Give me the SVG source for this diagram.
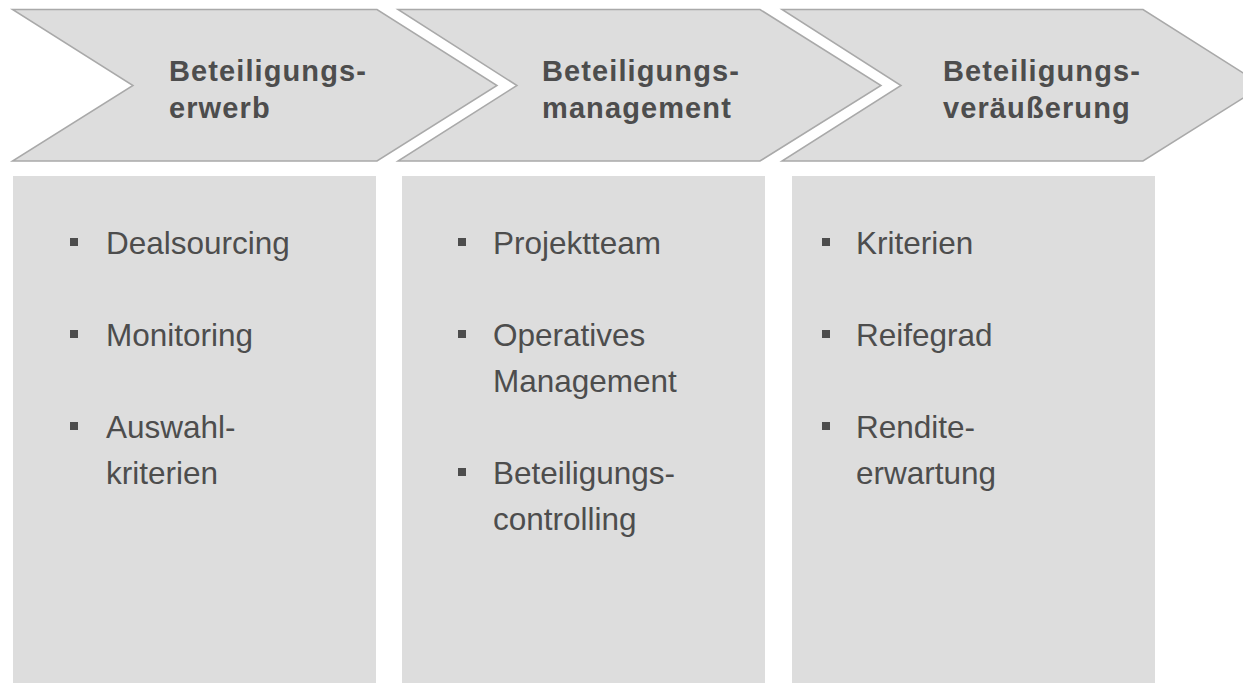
<svg xmlns="http://www.w3.org/2000/svg" width="1243" height="683" viewBox="0 0 1243 683">
  <style>
    .chev { fill: #dddddd; stroke: #a9a9a9; stroke-width: 1.5; stroke-linejoin: miter; }
    .box { fill: #dddddd; stroke: none; }
    .head { font-family: "Liberation Sans", Arial, sans-serif; font-weight: bold; font-size: 29px; letter-spacing: 1.1px; fill: #4d4d4d; }
    .item { font-family: "Liberation Sans", Arial, sans-serif; font-size: 31.5px; fill: #4d4d4d; }
    .bul { fill: #4d4d4d; }
  </style>
  <rect width="1243" height="683" fill="#ffffff"/>

  <g id="stage1">
    <polygon class="chev" points="12.5,9.5 377,9.5 497,85.5 377,161 12.5,161 133,85.5"/>
    <text class="head" x="169" y="81">Beteiligungs-</text>
    <text class="head" x="169" y="118">erwerb</text>
  </g>
  <g id="stage2">
    <polygon class="chev" points="398,9.5 760,9.5 881,85.5 760,161 398,161 517,85.5"/>
    <text class="head" x="542" y="81">Beteiligungs-</text>
    <text class="head" x="542" y="118">management</text>
  </g>
  <g id="stage3">
    <polygon class="chev" points="782,9.5 1143,9.5 1263,85.5 1143,161 782,161 901,85.5"/>
    <text class="head" x="943" y="81">Beteiligungs-</text>
    <text class="head" x="943" y="118">veräußerung</text>
  </g>

  <g id="box1">
    <rect class="box" x="13" y="176" width="363" height="507"/>
    <rect class="bul" x="70" y="238" width="8" height="8"/>
    <text class="item" x="106" y="254">Dealsourcing</text>
    <rect class="bul" x="70" y="330" width="8" height="8"/>
    <text class="item" x="106" y="346">Monitoring</text>
    <rect class="bul" x="70" y="422" width="8" height="8"/>
    <text class="item" x="106" y="438">Auswahl-</text>
    <text class="item" x="106" y="484">kriterien</text>
  </g>
  <g id="box2">
    <rect class="box" x="402" y="176" width="363" height="507"/>
    <rect class="bul" x="458" y="238" width="8" height="8"/>
    <text class="item" x="493" y="254">Projektteam</text>
    <rect class="bul" x="458" y="330" width="8" height="8"/>
    <text class="item" x="493" y="346">Operatives</text>
    <text class="item" x="493" y="392">Management</text>
    <rect class="bul" x="458" y="468" width="8" height="8"/>
    <text class="item" x="493" y="484">Beteiligungs-</text>
    <text class="item" x="493" y="530">controlling</text>
  </g>
  <g id="box3">
    <rect class="box" x="792" y="176" width="363" height="507"/>
    <rect class="bul" x="822" y="238" width="8" height="8"/>
    <text class="item" x="856" y="254">Kriterien</text>
    <rect class="bul" x="822" y="330" width="8" height="8"/>
    <text class="item" x="856" y="346">Reifegrad</text>
    <rect class="bul" x="822" y="422" width="8" height="8"/>
    <text class="item" x="856" y="438">Rendite-</text>
    <text class="item" x="856" y="484">erwartung</text>
  </g>
</svg>
